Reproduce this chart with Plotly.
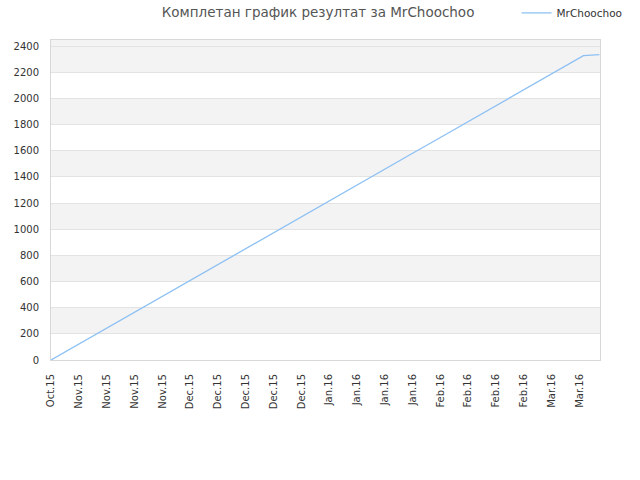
import plotly.graph_objects as go

dates = ["2015-10-28", "2015-11-04", "2015-11-11", "2015-11-18", "2015-11-25",
         "2015-12-02", "2015-12-09", "2015-12-16", "2015-12-23", "2015-12-30",
         "2016-01-06", "2016-01-13", "2016-01-20", "2016-01-27",
         "2016-02-03", "2016-02-10", "2016-02-17", "2016-02-24",
         "2016-03-02", "2016-03-09", "2016-03-10", "2016-03-14"]
scores = [0, 122, 243, 365, 486, 608, 729, 851, 972, 1094, 1215, 1337, 1458,
          1580, 1701, 1823, 1944, 2066, 2187, 2309, 2326, 2334]
series_name = "MrChoochoo"
title_text = "Комплетан график резултат за MrChoochoo"
y_ticks = list(range(0, 2401, 200))

fig = go.Figure()
fig.add_trace(go.Scatter(x=dates, y=scores, mode="lines", name=series_name,
                         line=dict(color="#8cc0f4", width=1.3)))

shapes = []
for lo in [200, 600, 1000, 1400, 1800, 2200, 2400]:
    hi = lo + 200
    shapes.append(dict(type="rect", xref="paper", yref="y", x0=0, x1=1, y0=lo, y1=hi,
                       fillcolor="#f3f3f3", line=dict(width=0), layer="below"))

fig.update_layout(
    width=640, height=480,
    margin=dict(l=51, r=40, t=40, b=120, autoexpand=False),
    paper_bgcolor="white", plot_bgcolor="white",
    font=dict(family="DejaVu Sans", size=10, color="#333333"),
    title=dict(text=title_text, x=0.497, xanchor="center", y=0.975, yanchor="middle",
               font=dict(size=13.5, color="#555555")),
    showlegend=True,
    legend=dict(x=0.848, xanchor="left", y=1.085, yanchor="middle",
                font=dict(size=10.5, color="#333333"), bgcolor="rgba(0,0,0,0)"),
    shapes=shapes,
    xaxis=dict(type="date", range=["2015-10-28", "2016-03-14 04:00"],
               tick0="2015-10-28", dtick=7 * 86400000, tickformat="%b.%y",
               tickangle=-90, showgrid=False, showline=True, linecolor="#d8d8d8",
               mirror=True, ticks="outside", ticklen=9, tickcolor="rgba(0,0,0,0)",
               zeroline=False, automargin=False,
               tickfont=dict(size=10, color="#333333")),
    yaxis=dict(range=[0, 2446], tickvals=y_ticks, showgrid=True, gridcolor="#e3e3e3",
               showline=True, linecolor="#d8d8d8", mirror=True, zeroline=False,
               ticks="outside", ticklen=9, tickcolor="rgba(0,0,0,0)", automargin=False,
               tickfont=dict(size=10, color="#333333")),
)
fig.write_html("out.html", config={"displayModeBar": False},
               post_script="document.body.style.margin='0';")
